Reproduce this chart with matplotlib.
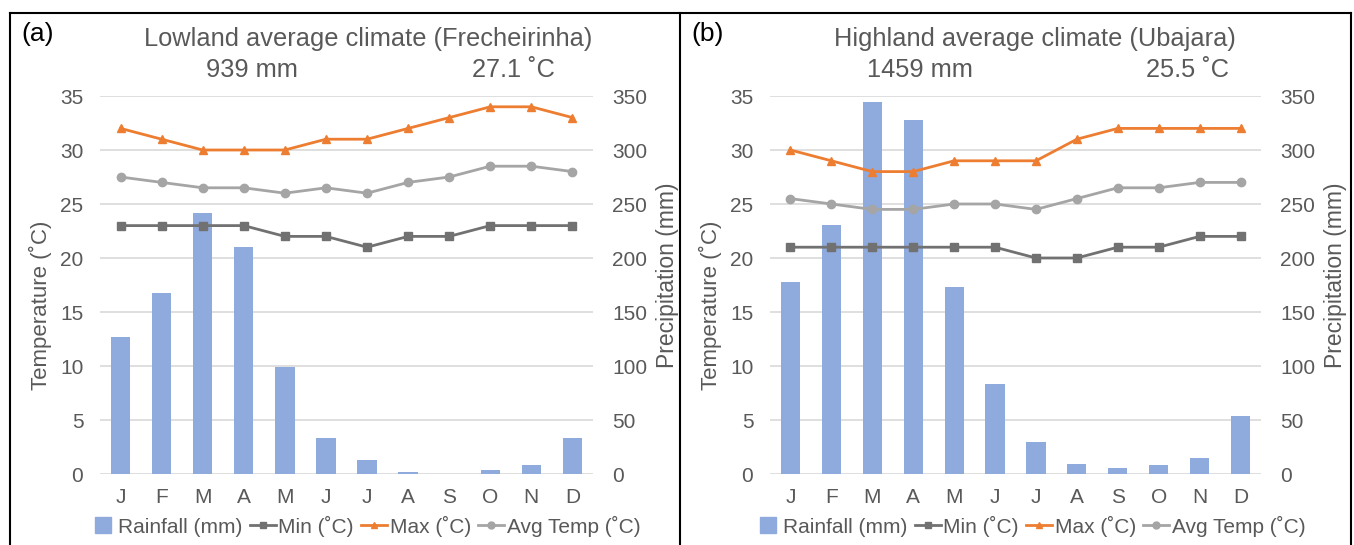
import matplotlib.pyplot as plt
from matplotlib.lines import Line2D

plt.rcParams['font.family'] = ['Liberation Sans', 'DejaVu Sans']

months = ['J', 'F', 'M', 'A', 'M', 'J', 'J', 'A', 'S', 'O', 'N', 'D']

# Lowland (Frecheirinha)
low_rain = [127, 168, 242, 210, 99, 33, 13, 2, 0, 4, 8, 33]
low_min = [23, 23, 23, 23, 22, 22, 21, 22, 22, 23, 23, 23]
low_max = [32, 31, 30, 30, 30, 31, 31, 32, 33, 34, 34, 33]
low_avg = [27.5, 27, 26.5, 26.5, 26, 26.5, 26, 27, 27.5, 28.5, 28.5, 28]

# Highland (Ubajara)
high_rain = [178, 231, 344, 328, 173, 83, 30, 9, 6, 8, 15, 54]
high_min = [21, 21, 21, 21, 21, 21, 20, 20, 21, 21, 22, 22]
high_max = [30, 29, 28, 28, 29, 29, 29, 31, 32, 32, 32, 32]
high_avg = [25.5, 25, 24.5, 24.5, 25, 25, 24.5, 25.5, 26.5, 26.5, 27, 27]

BAR = '#8FAADC'
MAXC = '#ED7D31'
AVGC = '#A5A5A5'
MINC = '#717171'
TXT = '#595959'
GRID = '#D9D9D9'

W, H = 1354, 545
fig = plt.figure(figsize=(W / 100, H / 100), dpi=100)


def px(x0, y0, x1, y1):
    # pixel box -> figure fraction rect
    return [x0 / W, 1 - y1 / H, (x1 - x0) / W, (y1 - y0) / H]


def panel(rect, rain, tmin, tmax, tavg, tag, title, total, mean, xs):
    ax = fig.add_axes(rect)
    ax2 = ax.twinx()
    ax.set_zorder(ax2.get_zorder() + 1)
    ax.patch.set_visible(False)

    x = range(len(months))
    ax2.bar(x, rain, width=0.47, color=BAR, zorder=2)
    ax2.set_ylim(0, 350)
    ax2.set_yticks(range(0, 351, 50))
    ax2.yaxis.grid(True, color=GRID, linewidth=1.2)
    ax2.set_axisbelow(True)

    ax.plot(x, tmin, color=MINC, lw=2, marker='s', ms=6)
    ax.plot(x, tmax, color=MAXC, lw=2, marker='^', ms=6)
    ax.plot(x, tavg, color=AVGC, lw=2, marker='o', ms=6)
    ax.set_ylim(0, 35)
    ax.set_yticks(range(0, 36, 5))
    ax.set_xlim(-0.5, 11.5)
    ax.set_xticks(list(x))
    ax.set_xticklabels(months)

    for a in (ax, ax2):
        for s in a.spines.values():
            s.set_visible(False)
        a.tick_params(length=0, labelsize=15, labelcolor=TXT)
    ax.tick_params(axis='y', pad=12)
    ax.tick_params(axis='x', pad=10)
    ax2.tick_params(axis='y', pad=14)

    ax.set_ylabel('Temperature (˚C)', fontsize=16, color=TXT, labelpad=6)
    ax2.set_ylabel('Precipitation (mm)', fontsize=16.5, color=TXT, labelpad=6)
    ax.yaxis.label.set_y(0.447)
    ax2.yaxis.label.set_y(0.526)

    fig.text(xs[0] / W, 1 - 34 / H, tag, fontsize=19, color='black',
             ha='left', va='center')
    fig.text(xs[1] / W, 1 - 39 / H, title, fontsize=18.3, color=TXT,
             ha='center', va='center')
    fig.text(xs[2] / W, 1 - 70 / H, total, fontsize=18.3, color=TXT,
             ha='center', va='center')
    fig.text(xs[3] / W, 1 - 70 / H, mean, fontsize=18.3, color=TXT,
             ha='center', va='center')

    handles = [
        Line2D([], [], color=BAR, ls='none', marker='s', ms=11,
               label='Rainfall (mm)'),
        Line2D([], [], color=MINC, lw=2, marker='s', ms=5, label='Min (˚C)'),
        Line2D([], [], color=MAXC, lw=2, marker='^', ms=5, label='Max (˚C)'),
        Line2D([], [], color=AVGC, lw=2, marker='o', ms=5, label='Avg Temp (˚C)'),
    ]
    leg = fig.legend(handles=handles, loc='center', ncol=4, frameon=False,
                     bbox_to_anchor=(xs[4] / W, 1 - 526 / H), fontsize=15,
                     handlelength=1.25, handletextpad=0.12, columnspacing=0.35)
    for t in leg.get_texts():
        t.set_color(TXT)


panel(px(100, 96, 593, 474), low_rain, low_min, low_max, low_avg,
      '(a)', 'Lowland average climate (Frecheirinha)', '939 mm', '27.1 ˚C',
      (21, 368, 252, 513, 365))
panel(px(770, 96, 1261, 474), high_rain, high_min, high_max, high_avg,
      '(b)', 'Highland average climate (Ubajara)', '1459 mm', '25.5 ˚C',
      (691, 1035, 920, 1188, 1030))

# panel borders
for xa in (10, 680, 1351):
    fig.add_artist(Line2D([xa / W, xa / W], [0, 1 - 13 / H], color='black',
                          lw=1.5, transform=fig.transFigure))
fig.add_artist(Line2D([10 / W, 1351 / W], [1 - 13 / H, 1 - 13 / H],
                      color='black', lw=1.5, transform=fig.transFigure))

fig.savefig('out.png', dpi=100)
